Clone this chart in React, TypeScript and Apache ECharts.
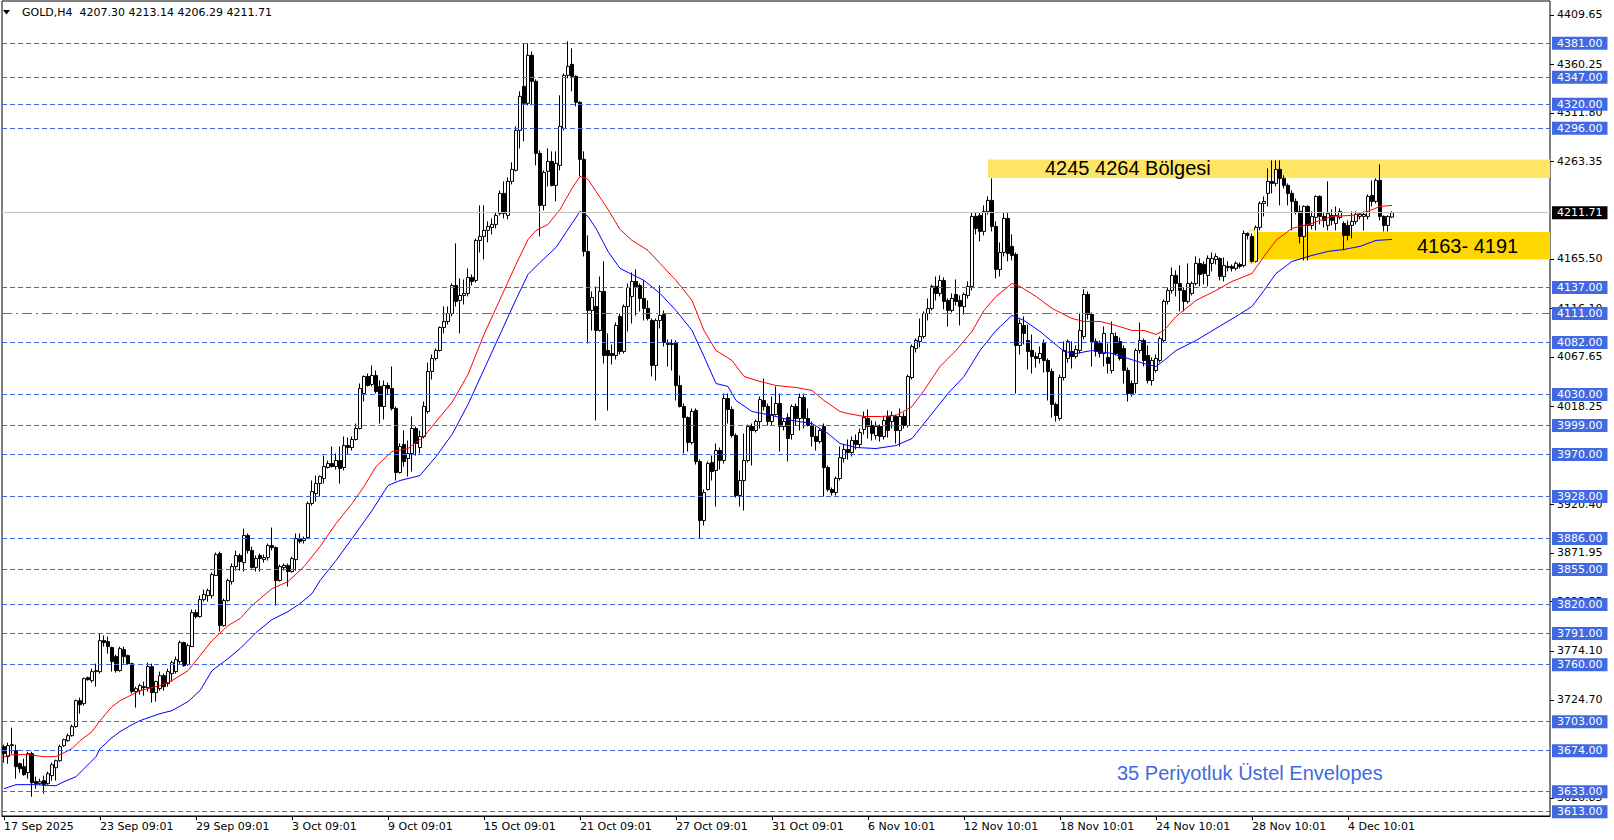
import { useEffect, useRef } from "react";
import * as echarts from "echarts";

// ---- x axis (H4 bars, one label every 24 bars) ----
const timeLabels = [
  "17 Sep 2025", "23 Sep 09:01", "29 Sep 09:01", "3 Oct 09:01", "9 Oct 09:01",
  "15 Oct 09:01", "21 Oct 09:01", "27 Oct 09:01", "31 Oct 09:01", "6 Nov 10:01",
  "12 Nov 10:01", "18 Nov 10:01", "24 Nov 10:01", "28 Nov 10:01", "4 Dec 10:01",
];
const TOTAL_SLOTS = 387;
const LABEL_EVERY = 24;

// ---- candles: [open, high, low, close] ----
const ohlcBars: number[][] = [
  [3678,3680,3662,3671],[3668,3682,3661,3679],[3679,3697,3671,3680],[3674,3680,3646,3658],[3661,3662,3652,3656],
  [3658,3666,3649,3650],[3652,3673,3646,3671],[3671,3673,3628,3642],[3643,3648,3636,3641],[3641,3646,3640,3643],
  [3644,3649,3631,3640],[3641,3653,3640,3651],[3649,3662,3644,3660],[3657,3665,3644,3664],[3664,3680,3663,3678],
  [3679,3686,3678,3685],[3684,3691,3683,3689],[3689,3700,3688,3698],[3698,3725,3697,3724],[3724,3727,3711,3720],
  [3721,3747,3719,3746],[3747,3748,3744,3745],[3744,3756,3742,3753],[3753,3761,3738,3754],[3753,3791,3751,3784],
  [3784,3789,3778,3782],[3783,3788,3771,3778],[3777,3778,3753,3763],[3768,3770,3752,3754],[3754,3778,3753,3776],
  [3775,3778,3761,3768],[3769,3770,3760,3761],[3761,3762,3731,3733],[3733,3738,3717,3736],[3734,3741,3730,3739],
  [3738,3743,3729,3737],[3737,3762,3733,3758],[3758,3761,3722,3732],[3732,3744,3723,3743],[3736,3753,3734,3749],
  [3749,3751,3734,3738],[3741,3756,3738,3753],[3751,3764,3743,3762],[3753,3768,3751,3765],[3763,3784,3761,3782],
  [3782,3783,3758,3759],[3760,3781,3759,3779],[3778,3815,3778,3812],[3812,3815,3806,3808],[3808,3829,3807,3825],
  [3825,3835,3823,3830],[3829,3836,3823,3834],[3829,3852,3826,3850],[3849,3872,3849,3870],[3871,3873,3793,3799],
  [3799,3826,3798,3824],[3824,3846,3823,3844],[3843,3861,3840,3858],[3858,3874,3854,3869],[3869,3871,3854,3863],
  [3862,3896,3853,3889],[3889,3891,3871,3874],[3874,3878,3856,3857],[3857,3869,3853,3866],[3869,3871,3853,3866],
  [3865,3870,3862,3867],[3867,3881,3864,3879],[3879,3897,3874,3877],[3877,3878,3819,3844],[3844,3860,3843,3858],
  [3857,3861,3854,3859],[3859,3861,3838,3853],[3853,3868,3852,3866],[3865,3891,3854,3886],[3886,3891,3881,3883],
  [3884,3888,3881,3886],[3887,3923,3886,3921],[3921,3944,3919,3933],[3931,3949,3923,3941],[3941,3949,3928,3948],
  [3946,3969,3941,3958],[3957,3964,3956,3961],[3961,3978,3957,3958],[3958,3971,3955,3964],[3964,3978,3941,3956],
  [3957,3988,3954,3979],[3979,3987,3970,3977],[3977,3988,3974,3985],[3985,4001,3984,3996],[3996,4041,3995,4036],
  [4031,4049,4023,4048],[4048,4051,4038,4039],[4040,4059,4038,4049],[4049,4054,4031,4033],[4038,4044,4001,4018],
  [4018,4044,4005,4039],[4039,4042,4030,4036],[4036,4058,4014,4016],[4016,4018,3944,3952],[3952,3981,3951,3978],
  [3980,3994,3958,3963],[3966,3984,3948,3971],[3971,4008,3953,3996],[3996,3998,3969,3981],[3977,3994,3971,3988],
  [3988,4023,3986,4018],[4013,4062,4011,4053],[4053,4070,4045,4066],[4066,4076,4064,4074],[4074,4098,4073,4097],
  [4097,4118,4091,4103],[4103,4118,4100,4111],[4111,4141,4108,4139],[4139,4181,4118,4123],[4124,4146,4091,4129],
  [4129,4145,4120,4131],[4131,4156,4128,4147],[4147,4150,4139,4143],[4144,4186,4142,4184],[4184,4219,4172,4188],
  [4188,4219,4165,4194],[4194,4203,4182,4198],[4197,4206,4190,4200],[4200,4212,4196,4209],[4211,4234,4209,4231],
  [4231,4243,4206,4211],[4209,4247,4205,4243],[4243,4262,4240,4255],[4254,4298,4253,4294],[4294,4333,4276,4328],
  [4338,4381,4283,4321],[4321,4381,4319,4369],[4369,4373,4319,4343],[4343,4345,4259,4271],[4271,4274,4188,4219],
  [4219,4254,4214,4252],[4253,4276,4238,4263],[4263,4273,4238,4239],[4239,4273,4223,4261],[4259,4329,4254,4298],
  [4296,4351,4294,4349],[4349,4383,4346,4358],[4360,4376,4333,4348],[4348,4349,4318,4322],[4322,4323,4248,4265],
  [4265,4273,4168,4173],[4173,4189,4081,4114],[4114,4133,4094,4127],[4118,4138,4004,4094],[4094,4148,4093,4133],
  [4133,4163,4061,4069],[4074,4091,4014,4069],[4071,4080,4060,4069],[4069,4102,4065,4099],[4108,4111,4070,4073],
  [4073,4120,4071,4118],[4118,4141,4093,4137],[4128,4152,4101,4143],[4143,4155,4109,4138],[4139,4141,4113,4126],
  [4126,4144,4104,4116],[4116,4124,4104,4106],[4104,4106,4048,4059],[4059,4106,4044,4104],[4104,4139,4096,4109],
  [4110,4114,4078,4082],[4081,4085,4058,4080],[4080,4085,4054,4081],[4081,4084,4024,4039],[4039,4049,4017,4018],
  [4018,4021,3971,4007],[4007,4008,3973,3982],[3982,4016,3980,4013],[4014,4016,3960,3963],[3963,3965,3886,3904],
  [3904,3935,3899,3932],[3935,3963,3934,3961],[3962,3969,3944,3953],[3954,3981,3918,3974],[3974,3977,3955,3964],
  [3964,4031,3961,4026],[4026,4031,4001,4015],[4015,4018,3987,3989],[3989,3991,3927,3929],[3929,3954,3918,3944],
  [3944,3991,3914,3964],[3964,4000,3962,3998],[3998,4001,3959,3994],[3994,4005,3992,4003],[4003,4028,3996,4025],
  [4024,4046,4014,4018],[4018,4021,3999,4003],[4003,4028,3999,4010],[4010,4038,4009,4021],[4021,4031,3973,3998],
  [3998,4006,3994,4003],[4007,4011,3963,3986],[3990,4020,3985,4018],[4018,4021,3999,4006],[4006,4031,3994,4027],
  [4027,4031,3996,4006],[4006,4016,3998,3999],[3999,4003,3978,3988],[3988,3998,3974,3983],[3983,3996,3981,3994],
  [3998,4001,3928,3957],[3957,3959,3933,3935],[3935,3937,3929,3932],[3932,3948,3929,3946],[3946,3978,3944,3967],
  [3966,3980,3962,3975],[3975,3985,3965,3972],[3972,3988,3968,3984],[3984,3990,3975,3980],[3980,3996,3977,3992],
  [3995,4013,3990,4007],[4006,4015,3986,3998],[3999,4004,3984,3991],[3989,4003,3985,3998],[3998,4000,3983,3988],
  [3988,4008,3985,4004],[4008,4014,3987,3994],[4003,4013,3996,4009],[4008,4010,3981,3994],[3994,4016,3978,4008],
  [4008,4012,3996,3999],[3999,4050,3997,4048],[4047,4080,4045,4078],[4076,4086,4072,4084],[4083,4106,4077,4088],
  [4088,4113,4086,4111],[4111,4126,4104,4116],[4116,4140,4114,4138],[4138,4148,4124,4131],[4131,4149,4128,4144],
  [4144,4147,4115,4123],[4124,4126,4098,4114],[4114,4131,4112,4126],[4130,4145,4119,4123],[4124,4129,4099,4118],
  [4118,4132,4110,4130],[4129,4143,4126,4138],[4138,4212,4134,4208],[4208,4212,4190,4196],[4209,4212,4183,4193],
  [4193,4219,4189,4213],[4213,4228,4210,4224],[4224,4246,4193,4198],[4198,4203,4146,4155],[4155,4182,4148,4172],
  [4172,4212,4168,4206],[4206,4212,4163,4171],[4178,4190,4164,4169],[4170,4172,4031,4079],[4079,4105,4070,4101],
  [4099,4108,4080,4091],[4084,4100,4055,4073],[4074,4090,4051,4068],[4068,4072,4057,4066],[4066,4078,4061,4071],
  [4082,4085,4052,4064],[4064,4066,4024,4053],[4053,4056,4007,4020],[4020,4022,4003,4009],[4006,4050,4004,4047],
  [4047,4083,4044,4074],[4066,4085,4062,4083],[4073,4083,4056,4068],[4068,4079,4066,4075],[4074,4111,4071,4094],
  [4088,4135,4085,4130],[4130,4133,4105,4110],[4110,4112,4058,4083],[4083,4086,4068,4073],[4081,4084,4067,4071],
  [4071,4098,4058,4091],[4067,4081,4051,4061],[4054,4103,4051,4091],[4088,4092,4069,4071],[4083,4087,4064,4066],
  [4076,4079,4041,4054],[4054,4057,4023,4031],[4041,4044,4028,4031],[4041,4076,4031,4074],[4074,4102,4071,4084],
  [4084,4086,4058,4064],[4069,4079,4041,4044],[4044,4067,4039,4064],[4054,4070,4052,4066],[4064,4088,4062,4086],
  [4084,4125,4082,4123],[4123,4137,4120,4134],[4134,4157,4131,4149],[4149,4154,4128,4141],[4141,4159,4113,4134],
  [4134,4137,4113,4123],[4123,4161,4121,4141],[4131,4143,4129,4141],[4141,4168,4139,4161],[4161,4166,4138,4150],
  [4160,4163,4140,4151],[4149,4169,4138,4166],[4161,4172,4153,4166],[4165,4171,4160,4168],[4166,4167,4144,4148],
  [4148,4167,4143,4159],[4158,4163,4153,4157],[4158,4160,4153,4156],[4156,4163,4154,4161],[4160,4162,4156,4158],
  [4159,4194,4157,4191],[4191,4192,4185,4189],[4188,4191,4161,4163],[4163,4199,4162,4197],[4197,4223,4194,4221],
  [4221,4228,4208,4223],[4231,4256,4218,4243],[4243,4264,4231,4241],[4241,4264,4238,4255],[4255,4264,4219,4246],
  [4246,4249,4236,4239],[4239,4241,4219,4231],[4231,4234,4194,4223],[4223,4226,4210,4213],[4213,4219,4181,4188],
  [4188,4219,4164,4218],[4218,4219,4164,4199],[4199,4213,4195,4208],[4207,4229,4194,4228],[4228,4229,4200,4208],
  [4208,4212,4197,4204],[4199,4243,4194,4211],[4209,4215,4199,4204],[4201,4218,4194,4209],[4207,4216,4205,4213],
  [4201,4203,4174,4189],[4199,4204,4184,4189],[4199,4213,4186,4203],[4203,4213,4200,4210],[4208,4212,4205,4210],
  [4208,4213,4194,4210],[4208,4230,4205,4228],[4229,4244,4218,4223],[4223,4246,4221,4244],[4244,4260,4204,4208],
  [4208,4209,4193,4199],[4199,4209,4193,4208],[4207.30,4213.14,4206.29,4211.71],
];

// ---- 35-period exponential envelopes, read at [bar index, price] ----
const upperEnvelope: number[][] = [
  [0,3668],[2,3670],[6,3670],[10,3668],[13,3668],[15,3672],[17,3676],[19,3684],[22,3693],[24,3704],
  [27,3718],[29,3724],[32,3730],[34,3734],[39,3739],[42,3744],[46,3754],[49,3769],[52,3784],[56,3799],
  [59,3806],[62,3819],[67,3836],[71,3843],[75,3858],[79,3878],[83,3901],[87,3921],[90,3938],[93,3958],
  [97,3973],[101,3976],[105,3988],[108,4003],[112,4022],[116,4050],[120,4090],[124,4125],[128,4160],[131,4185],
  [133,4194],[136,4200],[139,4215],[142,4236],[144,4248],[146,4245],[148,4233],[151,4215],[154,4195],[157,4184],
  [161,4174],[164,4161],[168,4144],[172,4124],[175,4094],[178,4074],[182,4064],[185,4048],[189,4043],[193,4039],
  [198,4037],[202,4034],[205,4024],[209,4013],[211,4011],[215,4008],[219,4008],[223,4009],[227,4018],[230,4034],
  [234,4058],[238,4074],[242,4093],[245,4114],[248,4128],[252,4141],[254,4138],[258,4128],[262,4116],[267,4106],
  [270,4103],[274,4103],[278,4099],[282,4094],[285,4094],[288,4090],[290,4094],[293,4108],[298,4124],[303,4134],
  [307,4143],[312,4151],[315,4168],[318,4184],[322,4196],[327,4201],[329,4204],[332,4208],[337,4209],[341,4213],
  [344,4218],[347,4219],
];
const lowerEnvelope: number[][] = [
  [0,3636],[3,3640],[8,3640],[12,3639],[13,3639],[15,3643],[18,3648],[20,3656],[23,3668],[24,3676],
  [27,3687],[29,3693],[32,3700],[34,3704],[39,3711],[42,3714],[46,3723],[49,3734],[52,3754],[56,3766],
  [59,3776],[63,3792],[67,3805],[71,3813],[74,3821],[77,3831],[79,3844],[83,3864],[87,3886],[92,3914],
  [96,3939],[99,3944],[104,3949],[108,3968],[112,3990],[116,4020],[120,4055],[124,4090],[128,4125],[131,4150],
  [134,4162],[138,4177],[142,4201],[144,4213],[146,4208],[148,4196],[151,4173],[154,4156],[157,4150],[160,4144],
  [164,4131],[168,4114],[172,4094],[175,4068],[178,4041],[181,4038],[183,4024],[187,4013],[192,4009],[197,4004],
  [202,4001],[206,3991],[209,3981],[213,3977],[218,3976],[223,3979],[227,3986],[232,4011],[236,4031],[240,4048],
  [244,4074],[248,4094],[252,4109],[255,4104],[259,4093],[262,4083],[265,4073],[268,4071],[272,4074],[277,4071],
  [281,4066],[285,4061],[288,4058],[290,4064],[293,4074],[298,4084],[303,4096],[308,4108],[312,4118],[315,4134],
  [318,4151],[322,4163],[327,4169],[331,4173],[335,4175],[339,4178],[343,4184],[347,4185],
];

// ---- horizontal levels & price scale ----
const dashedLevels = [4381, 4347, 4320, 4296, 4137, 4082, 4030, 3999, 3970, 3928, 3886, 3855, 3820, 3791, 3760, 3703, 3674, 3633, 3613];
const dashDotLevels = [4111];
const currentPrice = 4211.71;
const scaleTicks = [4409.65, 4360.25, 4311.80, 4263.35, 4165.50, 4116.10, 4067.65, 4018.25, 3920.40, 3871.95, 3823.55, 3774.10, 3724.70, 3626.85];
const Y_MIN = 3608.7;
const Y_MAX = 4423.3;

// ---- zones ----
const zoneStarts = [246, 313];
const zoneTops = [4265, 4192.4];
const zoneBottoms = [4246.5, 4165];
const zoneColors = ["#FFE566", "#FFD700"];
// selected-object outline around one bar
const outlineBar = [312];
const outlineTop = [4194.3];
const outlineBottom = [4161.6];

const titleText = "GOLD,H4  4207.30 4213.14 4206.29 4211.71";
const AXIS_FONT = "DejaVu Sans";
const LEVEL_BLUE = "#4169E1";

const GRID_LEFT = 2;
const GRID_RIGHT_X = 1550;
const GRID_TOP = 1;
const GRID_BOTTOM_Y = 816;

export default function App() {
  const ref = useRef<HTMLDivElement>(null);

  useEffect(() => {
    if (!ref.current) return;
    const chart = echarts.init(ref.current, null, { renderer: "svg" });
    const categories = Array.from({ length: TOTAL_SLOTS }, (_, i) => String(i));
    const showLabel = (i: number) => i % LABEL_EVERY === 0 && i / LABEL_EVERY < timeLabels.length;

    const candleData = ohlcBars.map((b) => [b[0], b[3], b[2], b[1]]);

    const levelLabel = {
      show: true,
      position: "end",
      distance: 2,
      formatter: (p: any) => Number(p.value).toFixed(2),
      backgroundColor: LEVEL_BLUE,
      color: "#fff",
      fontFamily: AXIS_FONT,
      fontSize: 11,
      lineHeight: 12,
      padding: [1, 5, 0, 5],
    };

    const option: any = {
      animation: false,
      backgroundColor: "#fff",
      grid: {
        left: GRID_LEFT,
        right: 1614 - GRID_RIGHT_X,
        top: GRID_TOP,
        bottom: 840 - GRID_BOTTOM_Y,
        show: true,
        borderColor: "#000",
        borderWidth: 1,
        backgroundColor: "#fff",
      },
      xAxis: {
        type: "category",
        data: categories,
        boundaryGap: true,
        axisLine: { show: true, lineStyle: { color: "#000", width: 1 } },
        axisTick: {
          show: true,
          alignWithLabel: true,
          interval: (i: number) => showLabel(i),
          length: 4,
          lineStyle: { color: "#000" },
        },
        axisLabel: {
          interval: (i: number) => showLabel(i),
          formatter: (_v: string, i: number) => (showLabel(i) ? timeLabels[i / LABEL_EVERY] : ""),
          align: "left",
          fontFamily: AXIS_FONT,
          fontSize: 11,
          color: "#000",
          margin: 5,
        },
        splitLine: { show: false },
      },
      yAxis: {
        type: "value",
        position: "right",
        min: Y_MIN,
        max: Y_MAX,
        axisLine: { show: false },
        axisTick: { show: false },
        axisLabel: { show: false },
        splitLine: { show: false },
      },
      series: [
        {
          type: "custom",
          name: "zones",
          z: 0,
          silent: true,
          renderItem: (params: any, api: any) => {
            const top = api.coord([api.value(0), api.value(1)]);
            const bottom = api.coord([api.value(0), api.value(2)]);
            const right = params.coordSys.x + params.coordSys.width;
            return {
              type: "rect",
              shape: { x: top[0], y: top[1], width: right - top[0], height: bottom[1] - top[1] },
              style: { fill: zoneColors[params.dataIndex] },
            };
          },
          encode: { x: 0, y: [1, 2] },
          data: zoneStarts.map((s, i) => [s, zoneTops[i], zoneBottoms[i]]),
        },
        {
          type: "custom",
          name: "outline",
          z: 4,
          silent: true,
          renderItem: (_params: any, api: any) => {
            const top = api.coord([api.value(0), api.value(1)]);
            const bottom = api.coord([api.value(0), api.value(2)]);
            return {
              type: "rect",
              shape: { x: Math.round(top[0]) - 2.5, y: top[1], width: 5, height: bottom[1] - top[1] },
              style: { fill: "none", stroke: "#FFD700", lineWidth: 1 },
            };
          },
          encode: { x: 0, y: [1, 2] },
          data: outlineBar.map((s, i) => [s, outlineTop[i], outlineBottom[i]]),
        },
        {
          type: "line",
          name: "levels",
          z: 1,
          data: [],
          silent: true,
          markLine: {
            silent: true,
            symbol: ["none", "none"],
            animation: false,
            label: levelLabel,
            lineStyle: { color: LEVEL_BLUE, width: 1, type: [5, 3] },
            data: [
              ...dashedLevels.map((v) => ({ yAxis: v })),
              ...dashDotLevels.map((v) => ({ yAxis: v, lineStyle: { type: [10, 4, 2, 4] } })),
            ],
          },
        },
        {
          type: "line",
          name: "price",
          z: 1,
          data: [],
          silent: true,
          markLine: {
            silent: true,
            symbol: ["none", "none"],
            animation: false,
            label: { ...levelLabel, backgroundColor: "#000" },
            lineStyle: { color: "#C0C0C0", width: 1, type: "solid" },
            data: [{ yAxis: currentPrice }],
          },
        },
        {
          type: "candlestick",
          name: "GOLD",
          z: 2,
          barWidth: 3,
          data: candleData,
          itemStyle: {
            color: "#fff",
            color0: "#000",
            borderColor: "#000",
            borderColor0: "#000",
            borderWidth: 1,
          },
        },
        {
          type: "line",
          name: "upper",
          z: 3,
          data: upperEnvelope,
          showSymbol: false,
          symbol: "none",
          lineStyle: { color: "#FF0000", width: 1 },
          silent: true,
        },
        {
          type: "line",
          name: "lower",
          z: 3,
          data: lowerEnvelope,
          showSymbol: false,
          symbol: "none",
          lineStyle: { color: "#0000FF", width: 1 },
          silent: true,
        },
      ],
    };

    chart.setOption(option);

    const yPix = (v: number) => chart.convertToPixel({ yAxisIndex: 0 }, v) as number;
    const tickGraphics: any[] = [];
    scaleTicks.forEach((v) => {
      const y = Math.round(yPix(v)) + 0.5;
      tickGraphics.push({
        type: "line",
        z: 0,
        silent: true,
        shape: { x1: GRID_RIGHT_X, y1: y, x2: GRID_RIGHT_X + 4, y2: y },
        style: { stroke: "#000", lineWidth: 1 },
      });
      tickGraphics.push({
        type: "text",
        z: 0,
        silent: true,
        x: 1557,
        y: yPix(v),
        style: {
          text: v.toFixed(2),
          fontFamily: AXIS_FONT,
          fontSize: 11,
          fill: "#000",
          align: "left",
          verticalAlign: "middle",
        },
      });
    });

    const annotation = (text: string, x: number, y: number, fill: string) => ({
      type: "text",
      z: 10,
      silent: true,
      x,
      y,
      style: {
        text,
        fontFamily: "Liberation Sans",
        fontSize: 20,
        fill,
        align: "left",
        verticalAlign: "middle",
      },
    });

    chart.setOption({
      graphic: [
        ...tickGraphics,
        {
          type: "polygon",
          z: 10,
          silent: true,
          shape: { points: [[3, 10], [10, 10], [6.5, 14.5]] },
          style: { fill: "#000" },
        },
        {
          type: "text",
          z: 10,
          silent: true,
          x: 22,
          y: 12.5,
          style: {
            text: titleText,
            fontFamily: AXIS_FONT,
            fontSize: 11,
            fill: "#000",
            align: "left",
            verticalAlign: "middle",
          },
        },
        annotation("4245 4264 Bölgesi", 1045, 168, "#000"),
        annotation("4163- 4191", 1417, 246, "#000"),
        annotation("35 Periyotluk Üstel Envelopes", 1117, 773, LEVEL_BLUE),
      ],
    });

    return () => chart.dispose();
  }, []);

  return (
    <div
      ref={ref}
      style={{ position: "fixed", left: 0, top: 0, width: 1614, height: 840, background: "#fff" }}
    />
  );
}
